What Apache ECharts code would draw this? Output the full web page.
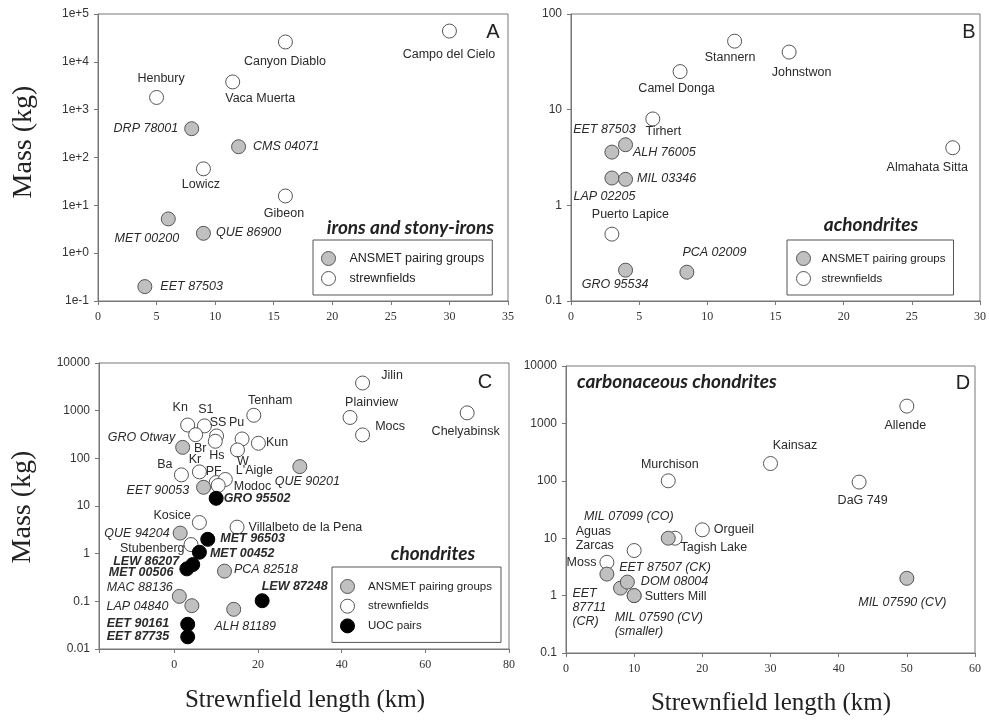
<!DOCTYPE html>
<html><head><meta charset="utf-8">
<script src="https://cdn.jsdelivr.net/npm/echarts@6/dist/echarts.min.js"></script>
<style>html,body{margin:0;padding:0;background:#fff}#c{width:989px;height:723px}</style>
</head><body><div id="c"></div>
<script>
// ---------- Panel A: irons and stony-irons ----------
const aStrewnNames = ['Campo del Cielo','Canyon Diablo','Vaca Muerta','Henbury','Lowicz','Gibeon'];
const aStrewnLen   = [30, 16, 11.5, 5, 9, 16];
const aStrewnMass  = [44000, 26000, 3800, 1800, 58, 15.7];
const aAnsmetNames = ['DRP 78001','CMS 04071','MET 00200','QUE 86900','EET 87503'];
const aAnsmetLen   = [8, 12, 6, 9, 4];
const aAnsmetMass  = [400, 168, 5.2, 2.6, 0.2];

// ---------- Panel B: achondrites ----------
const bStrewnNames = ['Stannern','Johnstwon','Camel Donga','Tirhert','Almahata Sitta','Puerto Lapice'];
const bStrewnLen   = [12, 16, 8, 6, 28, 3];
const bStrewnMass  = [52, 40, 25, 8, 4, 0.5];
const bAnsmetNames = ['EET 87503','ALH 76005','LAP 02205','MIL 03346','GRO 95534','PCA 02009'];
const bAnsmetLen   = [3, 4, 3, 4, 4, 8.5];
const bAnsmetMass  = [3.6, 4.3, 1.93, 1.87, 0.21, 0.2];

// ---------- Panel C: chondrites ----------
const cStrewnNames = ['Jilin','Plainview','Mocs','Chelyabinsk','Tenham','Kn','S1','Br','SS','Hs','Pu','Kun','W','Ba','Kr','PF',"L'Aigle",'Modoc','Kosice','Villalbeto de la Pena','Stubenberg'];
const cStrewnLen   = [45, 42, 45, 70, 19, 3.2, 7.2, 5.1, 10.1, 9.8, 16.2, 20.1, 15.1, 1.7, 6, 10, 12.2, 10.5, 6, 15, 4];
const cStrewnMass  = [3800, 720, 310, 900, 800, 500, 480, 313, 295, 228, 255, 207, 150, 45, 52, 31, 36, 27, 4.5, 3.6, 1.55];
const cAnsmetNames = ['GRO Otway','EET 90053','QUE 90201','QUE 94204','PCA 82518','MAC 88136','LAP 04840','ALH 81189'];
const cAnsmetLen   = [2, 7, 30, 1.4, 12, 1.2, 4.2, 14.2];
const cAnsmetMass  = [170, 24.7, 67, 2.7, 0.43, 0.127, 0.081, 0.068];
const cUocNames    = ['GRO 95502','MET 96503','MET 00452','LEW 86207','MET 00506','LEW 87248','EET 90161','EET 87735'];
const cUocLen      = [10, 8, 6, 4.4, 3, 21, 3.2, 3.2];
const cUocMass     = [14.5, 2.0, 1.07, 0.59, 0.48, 0.103, 0.033, 0.018];

// ---------- Panel D: carbonaceous chondrites ----------
const dStrewnNames = ['Allende','Kainsaz','DaG 749','Murchison','Orgueil','Tagish Lake','Aguas\nZarcas','Moss','Sutters Mill'];
const dStrewnLen   = [50, 30, 43, 15, 20, 16, 10, 6, 10];
const dStrewnMass  = [2000, 200, 95, 100, 14, 10, 6.1, 3.8, 1.0];
const dAnsmetNames = ['MIL 07099 (CO)','EET\n87711\n(CR)','EET 87507 (CK)','DOM 08004','MIL 07590 (CV)\n(smaller)','MIL 07590 (CV)'];
const dAnsmetLen   = [15, 6, 8, 9, 10, 50];
const dAnsmetMass  = [10, 2.37, 1.35, 1.72, 1.0, 2.0];

// ---------- axis ranges / tick labels ----------
const aXTicks = [0, 5, 10, 15, 20, 25, 30, 35];
const bXTicks = [0, 5, 10, 15, 20, 25, 30];
const cXTicks = [0, 20, 40, 60, 80];
const cXMin = -18;
const dXTicks = [0, 10, 20, 30, 40, 50, 60];
const aYRange = [0.1, 100000];
const bYRange = [0.1, 100];
const cYRange = [0.01, 10000];
const dYRange = [0.1, 10000];

const legendNames = ['ANSMET pairing groups', 'strewnfields', 'UOC pairs'];

// ---------- label placement (layout, not data): [dx, dy, align] from marker centre ----------
const labelPlace = {
  'A|Campo del Cielo':[0,24,'center'], 'A|Canyon Diablo':[0,20,'center'], 'A|Vaca Muerta':[28,17,'center'],
  'A|Henbury':[5,-18,'center'], 'A|DRP 78001':[-13,0,'right'], 'A|CMS 04071':[15,0,'left'],
  'A|Lowicz':[-2,16,'center'], 'A|Gibeon':[-1,18,'center'], 'A|MET 00200':[-21,20,'center'],
  'A|QUE 86900':[13,0,'left'], 'A|EET 87503':[16,0,'left'],
  'B|Stannern':[-4,17,'center'], 'B|Johnstwon':[13,21,'center'], 'B|Camel Donga':[-3,17,'center'],
  'B|Tirhert':[11,13,'center'], 'B|Almahata Sitta':[-25,20,'center'], 'B|Puerto Lapice':[19,-19,'center'],
  'B|EET 87503':[-7,-22,'center'], 'B|ALH 76005':[8,8,'left'], 'B|LAP 02205':[-7,19,'center'],
  'B|MIL 03346':[12,0,'left'], 'B|GRO 95534':[-10,15,'center'], 'B|PCA 02009':[28,-19,'center'],
  'C|Jilin':[30,-7,'center'], 'C|Plainview':[22,-14,'center'], 'C|Mocs':[28,-8,'center'],
  'C|Chelyabinsk':[-1,19,'center'], 'C|Tenham':[17,-14,'center'], 'C|Kn':[-7,-17,'center'],
  'C|S1':[2,-16,'center'], 'C|SS':[2,-13,'center'], 'C|Pu':[-5,-16,'center'], 'C|Br':[5,14,'center'],
  'C|Hs':[2,15,'center'], 'C|Kr':[-4,-12,'center'], 'C|Ba':[-16,-10,'center'], 'C|PF':[-2,-11,'center'],
  'C|W':[6,12,'center'], "C|L'Aigle":[11,-8,'left'], 'C|Modoc':[16,2,'left'], 'C|Kun':[8,0,'left'],
  'C|GRO Otway':[-7,-9,'right'], 'C|EET 90053':[-14,4,'right'], 'C|GRO 95502':[8,1,'left'],
  'C|QUE 90201':[8,15,'center'], 'C|Kosice':[-8,-6,'right'], 'C|Villalbeto de la Pena':[12,1,'left'],
  'C|QUE 94204':[-10,1,'right'], 'C|Stubenberg':[-6,4,'right'], 'C|MET 96503':[13,0,'left'],
  'C|MET 00452':[11,2,'left'], 'C|LEW 86207':[-13,-3,'right'], 'C|MET 00506':[-13,4,'right'],
  'C|PCA 82518':[10,-1,'left'], 'C|MAC 88136':[-6,-8,'right'], 'C|LAP 04840':[-23,1,'right'],
  'C|ALH 81189':[12,18,'center'], 'C|LEW 87248':[33,-14,'center'], 'C|EET 90161':[-18,0,'right'],
  'C|EET 87735':[-18,0,'right'],
  'D|Allende':[-1,20,'center'], 'D|Kainsaz':[25,-17,'center'], 'D|DaG 749':[4,19,'center'],
  'D|Murchison':[2,-16,'center'], 'D|Orgueil':[12,0,'left'], 'D|Tagish Lake':[6,10,'left'],
  'D|MIL 07099 (CO)':[-39,-21,'center'], 'D|Aguas\nZarcas':[-58,-11,'left'], 'D|Moss':[-10,1,'right'],
  'D|EET\n87711\n(CR)':[-34,34,'left'], 'D|EET 87507 (CK)':[45,-20,'center'], 'D|DOM 08004':[14,0,'left'],
  'D|Sutters Mill':[11,1,'left'], 'D|MIL 07590 (CV)\n(smaller)':[-19,29,'left'], 'D|MIL 07590 (CV)':[-4,25,'center']
};

const SYM = 14;
const kindStyle = {
  strewn: { color:'#ffffff', borderColor:'#555', borderWidth:1, opacity:1 },
  ansmet: { color:'#c0c0c0', borderColor:'#555', borderWidth:1, opacity:1 },
  uoc:    { color:'#000000', borderColor:'#000', borderWidth:1, opacity:1 }
};
const kindFont = {
  strewn: { fontStyle:'normal', fontWeight:'normal' },
  ansmet: { fontStyle:'italic', fontWeight:'normal' },
  uoc:    { fontStyle:'italic', fontWeight:'bold' }
};
const kindName = { strewn:'strewnfields', ansmet:'ANSMET pairing groups', uoc:'UOC pairs' };

function mkSeries(panel, gi, names, xs, ys, kind, z) {
  return {
    type:'scatter', name: kindName[kind], xAxisIndex: gi, yAxisIndex: gi,
    symbol:'circle', symbolSize: SYM, z: z,
    itemStyle: kindStyle[kind],
    emphasis: { disabled: true },
    data: names.map((n, i) => {
      const p = labelPlace[panel + '|' + n] || [12, 0, 'left'];
      return {
        name: n, value: [xs[i], ys[i]],
        label: {
          show: true, formatter: n,
          position: [SYM/2 + p[0], SYM/2 + p[1]],
          align: p[2], verticalAlign: 'middle',
          fontFamily: 'Liberation Sans, Arial, sans-serif', fontSize: 12.5, lineHeight: 14,
          color: '#2a2a2a', fontStyle: kindFont[kind].fontStyle, fontWeight: kindFont[kind].fontWeight
        }
      };
    })
  };
}

const axisCol = '#777';
function xAx(gi, ticks, min) {
  const step = ticks[1] - ticks[0];
  const o = {
    gridIndex: gi, type:'value', min: (min !== undefined ? min : ticks[0]), max: ticks[ticks.length-1],
    axisLine: { show:true, onZero:false, lineStyle:{ color:axisCol } },
    axisTick: { show:true, length:4, lineStyle:{ color:axisCol } },
    splitLine: { show:false },
    axisLabel: { fontFamily:'Liberation Serif, Times New Roman, serif', fontSize:12, color:'#333', margin:10,
      formatter: v => (ticks.indexOf(Math.round(v*1000)/1000) >= 0 ? String(Math.round(v)) : '') }
  };
  if (min === undefined) o.interval = step; else o.splitNumber = 5;
  return o;
}
function yAx(gi, range, sci) {
  return {
    gridIndex: gi, type:'log', logBase:10, min: range[0], max: range[1],
    axisLine: { show:true, onZero:false, lineStyle:{ color:axisCol } },
    axisTick: { show:true, length:4, lineStyle:{ color:axisCol } },
    minorTick: { show:false },
    splitLine: { show:false },
    axisLabel: { fontFamily:'Liberation Sans, Arial, sans-serif', fontSize:12, color:'#333', margin:9,
      formatter: v => {
        const e = Math.round(Math.log10(v));
        if (sci) return '1e' + (e >= 0 ? '+' : '-') + Math.abs(e);
        return e >= 0 ? String(Math.pow(10, e)) : Math.pow(10, e).toFixed(-e);
      } }
  };
}

function gridBox(l, t, w, h) {
  return { left:l, top:t, width:w, height:h, show:true, borderColor:axisCol, borderWidth:1, backgroundColor:'transparent' };
}

function legendBox(left, top, names, fs, itemW, pad, gap) {
  return {
    left:left, top:top, orient:'vertical', data:names, selectedMode:false,
    itemWidth:itemW, itemHeight:14, itemGap:gap, padding:pad,
    itemStyle:{ borderWidth:1 },
    borderColor:'#555', borderWidth:1, borderRadius:0,
    textStyle:{ fontFamily:'Liberation Sans, Arial, sans-serif', fontSize:fs, color:'#222', lineHeight:14 }
  };
}

const serif = 'Liberation Serif, Times New Roman, serif';
const sans = 'Liberation Sans, Arial, sans-serif';
function txt(x, y, text, font, align, rot) {
  return { type:'text', x:x, y:y, rotation: rot || 0, silent:true,
    style: Object.assign({ text:text, fill:'#222', textAlign: align || 'center', textVerticalAlign:'middle' }, font) };
}

const chart = echarts.init(document.getElementById('c'), null, { renderer:'canvas' });
chart.setOption({
  animation:false,
  backgroundColor:'#fff',
  grid: [ gridBox(98,14,410,287), gridBox(571,14,410,287), gridBox(99,363,410,286), gridBox(566,366,409,287) ],
  xAxis: [ xAx(0, aXTicks), xAx(1, bXTicks), xAx(2, cXTicks, cXMin), xAx(3, dXTicks) ],
  yAxis: [ yAx(0, aYRange, true), yAx(1, bYRange), yAx(2, cYRange), yAx(3, dYRange) ],
  legend: [
    legendBox(313, 240, legendNames.slice(0,2), 12.5, 32, [11, 8, 9, 8], 5),
    legendBox(787, 240, legendNames.slice(0,2), 11.5, 26, [11, 8, 9, 9], 5),
    legendBox(332, 567, legendNames, 11.5, 31, [12, 9, 9, 8], 4.7)
  ],
  series: [
    mkSeries('A', 0, aStrewnNames, aStrewnLen, aStrewnMass, 'strewn', 2),
    mkSeries('A', 0, aAnsmetNames, aAnsmetLen, aAnsmetMass, 'ansmet', 3),
    mkSeries('B', 1, bStrewnNames, bStrewnLen, bStrewnMass, 'strewn', 2),
    mkSeries('B', 1, bAnsmetNames, bAnsmetLen, bAnsmetMass, 'ansmet', 3),
    mkSeries('C', 2, cStrewnNames, cStrewnLen, cStrewnMass, 'strewn', 2),
    mkSeries('C', 2, cAnsmetNames, cAnsmetLen, cAnsmetMass, 'ansmet', 3),
    mkSeries('C', 2, cUocNames, cUocLen, cUocMass, 'uoc', 4),
    mkSeries('D', 3, dStrewnNames, dStrewnLen, dStrewnMass, 'strewn', 2),
    mkSeries('D', 3, dAnsmetNames, dAnsmetLen, dAnsmetMass, 'ansmet', 3)
  ],
  graphic: [
    txt(24, 142, 'Mass (kg)', { fontFamily:serif, fontSize:28 }, 'center', Math.PI/2),
    txt(23, 507, 'Mass (kg)', { fontFamily:serif, fontSize:28 }, 'center', Math.PI/2),
    txt(305, 700, 'Strewnfield length (km)', { fontFamily:serif, fontSize:25 }, 'center'),
    txt(771, 703, 'Strewnfield length (km)', { fontFamily:serif, fontSize:25 }, 'center'),
    txt(493, 32, 'A', { fontFamily:sans, fontSize:20 }, 'center'),
    txt(969, 32, 'B', { fontFamily:sans, fontSize:20 }, 'center'),
    txt(485, 382, 'C', { fontFamily:sans, fontSize:20 }, 'center'),
    txt(963, 383, 'D', { fontFamily:sans, fontSize:20 }, 'center'),
    txt(494, 228, 'irons and stony-irons', { fontFamily:'Lato', fontSize:19, fontStyle:'italic', fontWeight:'bold' }, 'right'),
    txt(871, 225, 'achondrites', { fontFamily:'Lato', fontSize:19, fontStyle:'italic', fontWeight:'bold' }, 'center'),
    txt(433, 554, 'chondrites', { fontFamily:'Lato', fontSize:19, fontStyle:'italic', fontWeight:'bold' }, 'center'),
    txt(577, 382, 'carbonaceous chondrites', { fontFamily:'Lato', fontSize:19, fontStyle:'italic', fontWeight:'bold' }, 'left')
  ]
});
</script>
</body></html>
